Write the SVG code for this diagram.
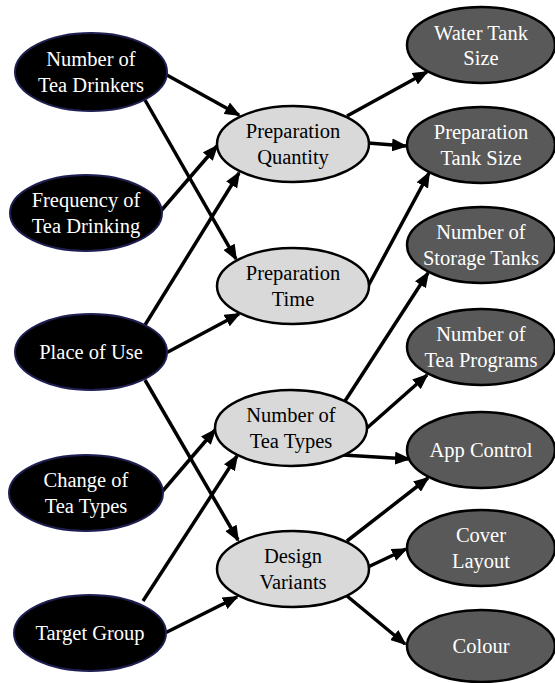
<svg xmlns="http://www.w3.org/2000/svg" width="555" height="683" viewBox="0 0 555 683">
<defs>
<style>
.src ellipse{fill:#000;stroke:#1e1e50;stroke-width:2}
.mid ellipse{fill:#d9d9d9;stroke:#000;stroke-width:2.5}
.out ellipse{fill:#595959;stroke:#000;stroke-width:2.5}
text{font-size:20.5px;text-anchor:middle}
.src text,.out text{fill:#fff}
.mid text{fill:#000}
#edges line{stroke:#000;stroke-width:3.5;marker-end:url(#ah)}
</style>
<marker id="ah" viewBox="0 0 16 13" refX="14" refY="6.5" markerWidth="16" markerHeight="13" markerUnits="userSpaceOnUse" orient="auto">
<path d="M0,0 L16,6.5 L0,13 z" fill="#000"/>
</marker>
</defs>
<rect width="555" height="683" fill="#fff"/>
<g id="edges">
<line x1="165" y1="74" x2="239" y2="115"/>
<line x1="145" y1="100" x2="236" y2="259"/>
<line x1="160" y1="212" x2="217" y2="146"/>
<line x1="145" y1="325" x2="239" y2="173"/>
<line x1="166" y1="353" x2="239" y2="314"/>
<line x1="145" y1="380" x2="238" y2="540"/>
<line x1="161" y1="493" x2="215" y2="430"/>
<line x1="143" y1="601" x2="237" y2="456"/>
<line x1="165" y1="633" x2="237" y2="597"/>
<line x1="347" y1="116" x2="427" y2="72"/>
<line x1="368" y1="143" x2="406" y2="146"/>
<line x1="366" y1="290" x2="429" y2="173"/>
<line x1="345" y1="401" x2="428" y2="273"/>
<line x1="367" y1="428" x2="427" y2="375"/>
<line x1="343" y1="455" x2="409" y2="459"/>
<line x1="347" y1="541" x2="428" y2="478"/>
<line x1="368" y1="567" x2="406" y2="549"/>
<line x1="347" y1="596" x2="405" y2="644"/>
</g>
<g font-family="Liberation Serif, Tinos, Times New Roman, DejaVu Serif, serif">
<g id="n1" class="src"><ellipse cx="91" cy="72" rx="76" ry="39"/><text x="91" y="66">Number of</text><text x="91" y="92">Tea Drinkers</text></g>
<g id="n2" class="src"><ellipse cx="86" cy="213" rx="76" ry="38"/><text x="86" y="207">Frequency of</text><text x="86" y="233">Tea Drinking</text></g>
<g id="n3" class="src"><ellipse cx="91" cy="352" rx="76" ry="38"/><text x="91" y="359">Place of Use</text></g>
<g id="n4" class="src"><ellipse cx="86" cy="493" rx="77" ry="38"/><text x="86" y="487">Change of</text><text x="86" y="513">Tea Types</text></g>
<g id="n5" class="src"><ellipse cx="90" cy="633" rx="76" ry="38"/><text x="90" y="640">Target Group</text></g>
<g id="m1" class="mid"><ellipse cx="293" cy="144" rx="76" ry="38"/><text x="293" y="138">Preparation</text><text x="293" y="164">Quantity</text></g>
<g id="m2" class="mid"><ellipse cx="293" cy="286" rx="76" ry="38"/><text x="293" y="280">Preparation</text><text x="293" y="306">Time</text></g>
<g id="m3" class="mid"><ellipse cx="291" cy="428" rx="76" ry="38"/><text x="291" y="422">Number of</text><text x="291" y="448">Tea Types</text></g>
<g id="m4" class="mid"><ellipse cx="293" cy="569" rx="76" ry="38"/><text x="293" y="563">Design</text><text x="293" y="589">Variants</text></g>
<g id="r1" class="out"><ellipse cx="481" cy="45" rx="74" ry="38"/><text x="481" y="40">Water Tank</text><text x="481" y="65">Size</text></g>
<g id="r2" class="out"><ellipse cx="481" cy="145" rx="74" ry="38"/><text x="481" y="139">Preparation</text><text x="481" y="165">Tank Size</text></g>
<g id="r3" class="out"><ellipse cx="481" cy="245" rx="74" ry="38"/><text x="481" y="239">Number of</text><text x="481" y="265">Storage Tanks</text></g>
<g id="r4" class="out"><ellipse cx="481" cy="347" rx="74" ry="38"/><text x="481" y="341">Number of</text><text x="481" y="367">Tea Programs</text></g>
<g id="r5" class="out"><ellipse cx="481" cy="450" rx="74" ry="38"/><text x="481" y="457">App Control</text></g>
<g id="r6" class="out"><ellipse cx="481" cy="548" rx="74" ry="38"/><text x="481" y="542">Cover</text><text x="481" y="568">Layout</text></g>
<g id="r7" class="out"><ellipse cx="481" cy="646" rx="74" ry="36"/><text x="481" y="653">Colour</text></g>
</g>
</svg>
